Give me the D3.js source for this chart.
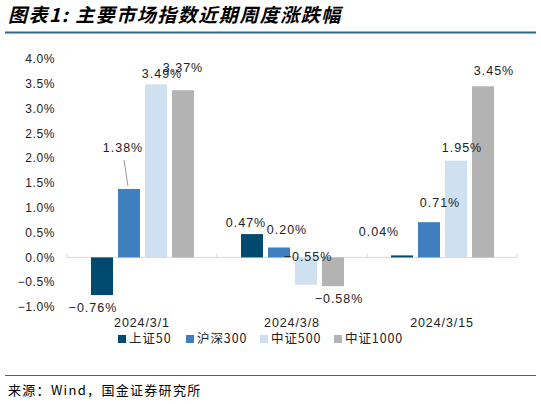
<!DOCTYPE html>
<meta charset="utf-8">
<script src="https://d3js.org/d3.v7.min.js"></script>
<style>
  body { margin: 0; background: #fff; }
  text { font-family: "Liberation Sans", Arial, sans-serif; }
  .cjk { font-family: "Noto Sans CJK SC", sans-serif; }
</style>
<div id="chart"></div>
<script>

// data
var dates = ["2024/3/1", "2024/3/8", "2024/3/15"];
var seriesNames = ["上证50", "沪深300", "中证500", "中证1000"];
var sz50   = [-0.76, 0.47, 0.04];
var hs300  = [1.38, 0.20, 0.71];
var zz500  = [3.49, -0.55, 1.95];
var zz1000 = [3.37, -0.58, 3.45];
var yTicks = [-1.0, -0.5, 0, 0.5, 1.0, 1.5, 2.0, 2.5, 3.0, 3.5, 4.0];

var colors = ["#004a70", "#3f7fbf", "#cfe0f1", "#b3b3b3"];

// label nudges [dx, dy] per date / series, to mimic the original placement
var labelNudge = [
  [[-9, 0], [-6, -33], [6, -3], [0, -15]],
  [[-6, -3], [8, -10], [2, -41], [6, -1]],
  [[-23, -16], [11, -12], [6, -5], [11, -8]]
];

var W = 541, H = 404;
var margin = {top: 59, left: 67, right: 24, bottom: 97};

var svg = d3.select("#chart").append("svg")
    .attr("width", W).attr("height", H);

// title + rules
svg.append("text").attr("class", "cjk")
    .attr("x", 8).attr("y", 22)
    .attr("font-size", 19).attr("font-weight", "bold")
    .attr("font-style", "italic").attr("letter-spacing", 1.5)
    .text("图表1: 主要市场指数近期周度涨跌幅");
svg.append("line").attr("x1", 5).attr("x2", 536).attr("y1", 32.5).attr("y2", 32.5)
    .attr("stroke", "#2f6a8c").attr("stroke-width", 2);
svg.append("line").attr("x1", 5).attr("x2", 536).attr("y1", 375.5).attr("y2", 375.5)
    .attr("stroke", "#2f6a8c").attr("stroke-width", 1);
svg.append("text").attr("class", "cjk")
    .attr("x", 8).attr("y", 395).attr("font-size", 13).attr("letter-spacing", 1.3)
    .text("来源：Wind，国金证券研究所");

var g = svg.append("g")
    .attr("transform", "translate(" + margin.left + "," + margin.top + ")");

var x0 = d3.scaleBand().domain(dates).range([0, 450]);
var x1 = d3.scaleBand().domain(seriesNames).range([19, 132]).padding(0.185);
var y = d3.scaleLinear().domain([-1.0, 4.0]).range([248, 0]);

var minus = function(s) { return s.replace("-", "\u2212"); };

// y axis labels (no axis line)
g.selectAll(".ytick").data(yTicks).enter().append("text")
    .attr("x", -12).attr("y", function(d) { return y(d); })
    .attr("dy", "0.35em").attr("text-anchor", "end")
    .attr("font-size", 12).attr("fill", "#222").attr("letter-spacing", 0.6)
    .text(function(d) { return minus(d3.format(".1f")(d)) + "%"; });

// zero line with group tick marks
g.append("line").attr("x1", 0).attr("x2", 450)
    .attr("y1", y(0)).attr("y2", y(0))
    .attr("stroke", "#d9d9d9").attr("stroke-width", 1);
g.selectAll(".gtick").data([0, 150, 300, 450]).enter().append("line")
    .attr("x1", function(d) { return d; }).attr("x2", function(d) { return d; })
    .attr("y1", y(0) - 4).attr("y2", y(0))
    .attr("stroke", "#d9d9d9");

// bars
var table = dates.map(function(d, i) {
  return { date: d, vals: [sz50[i], hs300[i], zz500[i], zz1000[i]] };
});

var groups = g.selectAll(".grp").data(table).enter().append("g")
    .attr("transform", function(d) { return "translate(" + x0(d.date) + ",0)"; });

groups.selectAll("rect").data(function(d) { return d.vals.map(function(v, j) { return {v: v, j: j}; }); })
  .enter().append("rect")
    .attr("x", function(d) { return x1(seriesNames[d.j]); })
    .attr("width", x1.bandwidth())
    .attr("y", function(d) { return y(Math.max(0, d.v)); })
    .attr("height", function(d) { return Math.abs(y(d.v) - y(0)); })
    .attr("fill", function(d) { return colors[d.j]; });

// value labels
groups.each(function(d, i) {
  var gg = d3.select(this);
  d.vals.forEach(function(v, j) {
    var bx = x1(seriesNames[j]) + x1.bandwidth() / 2;
    var cx = bx + labelNudge[i][j][0];
    var cy = (v >= 0 ? y(v) - 8 : y(v) + 13) + labelNudge[i][j][1];
    if (i === 0 && j === 1) {
      gg.append("line")
        .attr("x1", cx + 1).attr("y1", cy + 12)
        .attr("x2", bx - 1).attr("y2", y(v) - 3)
        .attr("stroke", "#999").attr("stroke-width", 1);
    }
    gg.append("text")
      .attr("x", cx).attr("y", cy).attr("dy", "0.35em")
      .attr("text-anchor", "middle").attr("font-size", 12.5).attr("fill", "#222")
      .attr("letter-spacing", 1)
      .text(minus(d3.format(".2f")(v)) + "%");
  });
});

// x labels
g.selectAll(".xl").data(dates).enter().append("text")
    .attr("x", function(d) { return x0(d) + x0.bandwidth() / 2; })
    .attr("y", 264).attr("dy", "0.35em")
    .attr("text-anchor", "middle").attr("font-size", 12.5).attr("fill", "#222")
    .attr("letter-spacing", 0.9)
    .text(function(d) { return d; });

// legend
var legX = [118, 186, 260, 334];
var leg = svg.selectAll(".leg").data(seriesNames).enter().append("g")
    .attr("transform", function(d, i) { return "translate(" + legX[i] + ",339)"; });
leg.append("rect").attr("x", 0).attr("y", -4).attr("width", 8).attr("height", 8)
    .attr("fill", function(d, i) { return colors[i]; });
leg.append("text").attr("class", "cjk").attr("x", 11).attr("dy", "0.35em")
    .attr("font-size", 12.5).attr("fill", "#222").attr("letter-spacing", 0.9)
    .text(function(d) { return d; });

</script>
